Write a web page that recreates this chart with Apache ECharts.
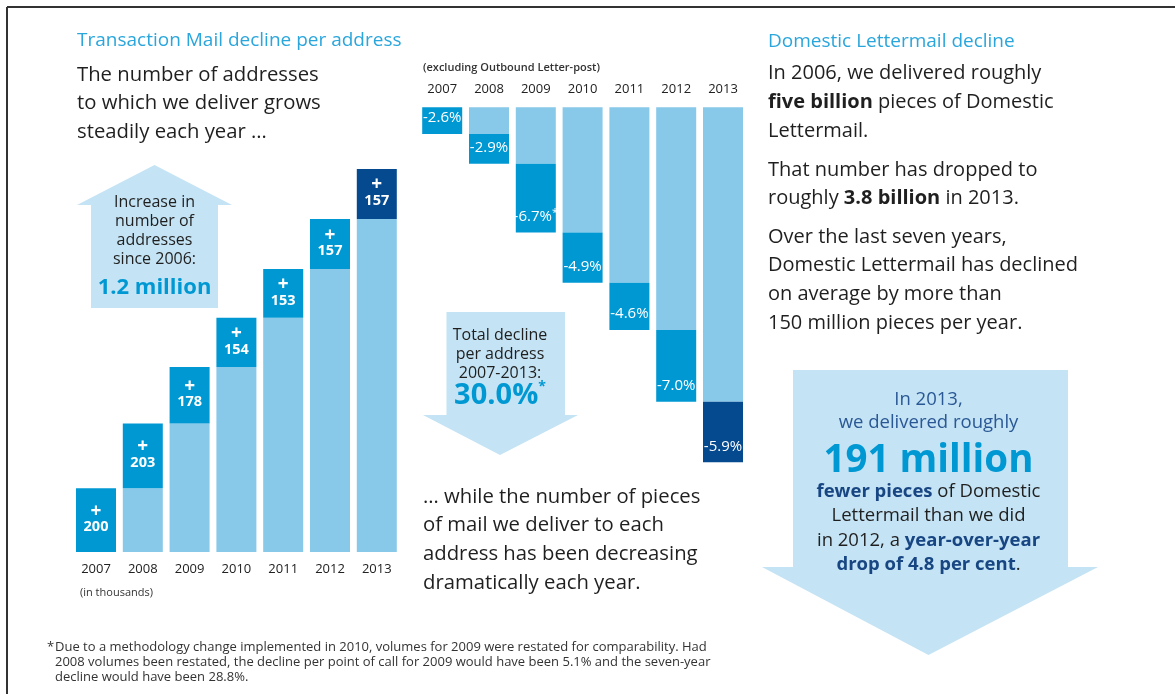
<!DOCTYPE html>
<html><head><meta charset="utf-8">
<script src="https://cdn.jsdelivr.net/npm/echarts/dist/echarts.min.js"></script>
<style>html,body{margin:0;padding:0;background:#fff;}#c{width:1175px;height:694px;}</style>
</head><body><div id="c"></div>
<script>
// ---- data ----
const years = ['2007','2008','2009','2010','2011','2012','2013'];
const addressIncrease = [200, 203, 178, 154, 153, 157, 157];      // thousands
const declinePct = [-2.6, -2.9, -6.7, -4.9, -4.6, -7.0, -5.9];    // % per address
const declineNote = ['', '', '*', '', '', '', ''];

// ---- derived stacks ----
const addrBase = addressIncrease.map((v, i) => addressIncrease.slice(0, i).reduce((a, b) => a + b, 0));
const declBase = declinePct.map((v, i) => +declinePct.slice(0, i).reduce((a, b) => a + b, 0).toFixed(1));

const FF = "'Open Sans', 'Noto Sans', sans-serif";
const LIGHT = '#88C9E9', MID = '#0098D3', NAVY = '#05498F', ARROW = '#C4E3F4';
const TXT = '#1f1f1f', CYAN = '#2AA6DC', ANAVY = '#2A5895', BNAVY = '#174682';

function T(x, y, text, opt) {
  return { type: 'text', x: x, y: y, silent: true, z: 10,
    style: Object.assign({ text: text, fontFamily: FF, fontSize: 20, fill: TXT, align: 'left', verticalAlign: 'middle' }, opt || {}) };
}
function rich(base, extra) {
  const r = {};
  for (const k in extra) r[k] = Object.assign({ fontFamily: FF }, base, extra[k]);
  return r;
}

const graphics = [];
// frame lines
graphics.push({ type: 'line', silent: true, shape: { x1: 7, y1: 7, x2: 1175, y2: 7 }, style: { stroke: '#333', lineWidth: 2 } });
graphics.push({ type: 'line', silent: true, shape: { x1: 7, y1: 7, x2: 7, y2: 694 }, style: { stroke: '#333', lineWidth: 2 } });

// arrows
graphics.push({ type: 'polygon', silent: true, z: 1, shape: { points: [[154.5,165],[232,205],[218,205],[218,308],[91,308],[91,205],[77,205]] }, style: { fill: ARROW } });
graphics.push({ type: 'polygon', silent: true, z: 1, shape: { points: [[446.5,312],[565,312],[565,415],[578,415],[500,455],[423,415],[446.5,415]] }, style: { fill: ARROW } });
graphics.push({ type: 'polygon', silent: true, z: 1, shape: { points: [[793,370],[1068,370],[1068,567],[1098,567],[928.5,655],[762,567],[793,567]] }, style: { fill: ARROW } });

// left text block
graphics.push(T(77, 41, 'Transaction Mail decline per address', { fontSize: 19, fill: CYAN }));
['The number of addresses', 'to which we deliver grows', 'steadily each year \u2026'].forEach((s, i) => graphics.push(T(77, 75 + i * 28.5, s, { fontSize: 20.3 })));
graphics.push(T(80, 593, '(in thousands)', { fontSize: 11, fill: '#333' }));

// left arrow text
['Increase in', 'number of', 'addresses', 'since 2006:'].forEach((s, i) => graphics.push(T(154.5, 202 + i * 19, s, { fontSize: 16, align: 'center' })));
graphics.push(T(154.5, 288, '1.2 million', { fontSize: 22, fontWeight: 'bold', fill: MID, align: 'center' }));

// middle
graphics.push(T(423, 68, '(excluding Outbound Letter-post)', { fontSize: 11, fontWeight: 600, fill: '#333' }));
['Total decline', 'per address', '2007-2013:'].forEach((s, i) => graphics.push(T(500, 335 + i * 19, s, { fontSize: 16, align: 'center' })));
graphics.push(T(500, 396, '{v|30.0%}{s|*}', { align: 'center', rich: rich({}, { v: { fontSize: 29, fontWeight: 'bold', fill: MID, lineHeight: 32 }, s: { fontSize: 14, fontWeight: 'bold', fill: MID, lineHeight: 32, verticalAlign: 'top' } }) }));
['\u2026 while the number of pieces', 'of mail we deliver to each', 'address has been decreasing', 'dramatically each year.'].forEach((s, i) => graphics.push(T(423, 497 + i * 28.7, s, { fontSize: 20.3 })));

// right text block
graphics.push(T(768, 41.5, 'Domestic Lettermail decline', { fontSize: 19, fill: CYAN }));
const rb = rich({ fontSize: 20, fill: TXT }, { b: { fontWeight: 'bold' } });
[['In 2006, we delivered roughly', 73.5], ['{b|five billion} pieces of Domestic', 102], ['Lettermail.', 131],
 ['That number has dropped to', 170], ['roughly {b|3.8 billion} in 2013.', 198.5],
 ['Over the last seven years,', 237], ['Domestic Lettermail has declined', 265.5], ['on average by more than', 294], ['150 million pieces per year.', 323]
].forEach(a => graphics.push(T(768, a[1], a[0], { fontSize: 20, rich: rb })));

// right arrow text
const ra = rich({ fontSize: 18.5, fill: ANAVY }, { b: { fontWeight: 'bold', fill: BNAVY } });
graphics.push(T(928.5, 400, 'In 2013,', { fontSize: 18.5, fill: ANAVY, align: 'center' }));
graphics.push(T(928.5, 422.5, 'we delivered roughly', { fontSize: 18.5, fill: ANAVY, align: 'center' }));
graphics.push(T(928.5, 461, '191 million', { fontSize: 38.5, fontWeight: 'bold', fill: MID, align: 'center' }));
[['{b|fewer pieces} of Domestic', 492], ['Lettermail than we did', 516], ['in 2012, a {b|year-over-year}', 541], ['{b|drop of 4.8 per cent}.', 565]]
  .forEach(a => graphics.push(T(928.5, a[1], a[0], { fontSize: 18.5, align: 'center', rich: ra })));

// footnote
graphics.push(T(47, 647, '*', { fontSize: 13, fill: '#333' }));
['Due to a methodology change implemented in 2010, volumes for 2009 were restated for comparability. Had',
 '2008 volumes been restated, the decline per point of call for 2009 would have been 5.1% and the seven-year',
 'decline would have been 28.8%.'].forEach((s, i) => graphics.push(T(55, 647 + i * 15, s, { fontSize: 13, fill: '#333' })));

const axisLab = { color: '#222', fontSize: 13, fontFamily: FF };
const option = {
  animation: false,
  grid: [
    { left: 72.6, width: 327.6, top: 106, height: 446 },
    { left: 418.8, width: 327.6, top: 107.3, height: 410.4 }
  ],
  xAxis: [
    { type: 'category', gridIndex: 0, data: years, axisLine: { show: false }, axisTick: { show: false }, axisLabel: Object.assign({ margin: 11 }, axisLab) },
    { type: 'category', gridIndex: 1, position: 'top', data: years, axisLine: { show: false }, axisTick: { show: false }, axisLabel: Object.assign({ margin: 12 }, axisLab) }
  ],
  yAxis: [
    { type: 'value', gridIndex: 0, min: 0, max: 1400, show: false },
    { type: 'value', gridIndex: 1, min: -40, max: 0, show: false }
  ],
  series: [
    { type: 'bar', xAxisIndex: 0, yAxisIndex: 0, stack: 'addr', barWidth: 40, silent: true, data: addrBase, itemStyle: { color: LIGHT } },
    { type: 'bar', xAxisIndex: 0, yAxisIndex: 0, stack: 'addr', barWidth: 40, silent: true, data: addressIncrease,
      itemStyle: { color: p => p.dataIndex === years.length - 1 ? NAVY : MID },
      label: { show: true, position: 'inside', offset: [0, -1], formatter: p => '{p|+}\n{v|' + p.value + '}',
        rich: { p: { fontSize: 19, fontWeight: 'bold', color: '#fff', lineHeight: 16, fontFamily: FF }, v: { fontSize: 14.5, fontWeight: 'bold', color: '#fff', lineHeight: 16, fontFamily: FF } } } },
    { type: 'bar', xAxisIndex: 1, yAxisIndex: 1, stack: 'decl', barWidth: 40, silent: true, data: declBase, itemStyle: { color: LIGHT } },
    { type: 'bar', xAxisIndex: 1, yAxisIndex: 1, stack: 'decl', barWidth: 40, silent: true, data: declinePct,
      itemStyle: { color: p => p.dataIndex === years.length - 1 ? NAVY : MID },
      label: { show: true, position: 'insideBottom', distance: 7,
        formatter: p => '{v|' + p.value.toFixed(1) + '%}' + (declineNote[p.dataIndex] ? '{s|' + declineNote[p.dataIndex] + '}' : ''),
        rich: { v: { fontSize: 15, color: '#fff', lineHeight: 18, fontFamily: FF }, s: { fontSize: 11, color: '#fff', lineHeight: 18, verticalAlign: 'top', fontFamily: FF } } } }
  ],
  graphic: graphics
};
const chart = echarts.init(document.getElementById('c'), null, { renderer: 'canvas' });
chart.setOption(option);
</script>
</body></html>
